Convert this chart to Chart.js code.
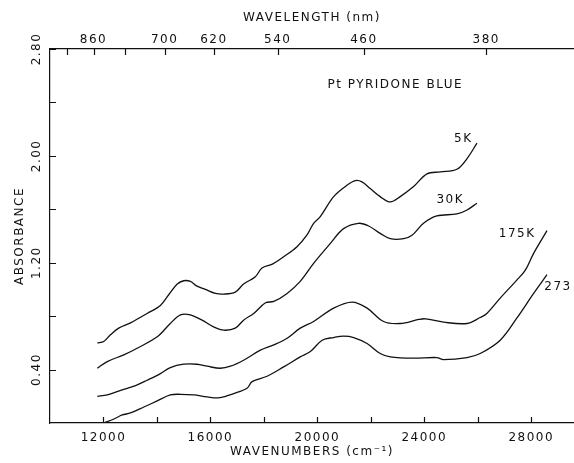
<!DOCTYPE html>
<html>
<head>
<meta charset="utf-8">
<script src="https://cdn.jsdelivr.net/npm/chart.js@4"></script>
<style>
  html, body { margin: 0; padding: 0; background: #fff; }
  #wrap { width: 574px; height: 463px; position: relative; }
</style>
</head>
<body>
<div id="wrap"><canvas id="myChart"></canvas></div>
<script>
// spectra: wavenumber (cm-1) and absorbance
var wn5K = [11770, 12010, 12260, 12570, 13010, 13630, 14130, 14440, 14760, 15000, 15250, 15500, 15810, 16190, 16500, 16930, 17240, 17680, 17930, 18320, 18740, 19240, 19620, 19860, 20110, 20610, 21110, 21420, 21670, 21980, 22350, 22730, 23100, 23600, 24100, 24600, 25220, 25600, 25970];
var abs5K = [0.60, 0.61, 0.66, 0.71, 0.75, 0.82, 0.88, 0.96, 1.04, 1.065, 1.06, 1.025, 1.00, 0.97, 0.965, 0.98, 1.04, 1.095, 1.16, 1.19, 1.245, 1.32, 1.41, 1.495, 1.545, 1.695, 1.78, 1.815, 1.805, 1.755, 1.695, 1.655, 1.695, 1.77, 1.865, 1.88, 1.90, 1.98, 2.095];

var wn30K = [11770, 12140, 12760, 13260, 14010, 14500, 14880, 15250, 15690, 16120, 16500, 16930, 17240, 17620, 18060, 18370, 18870, 19360, 19860, 20490, 20980, 21540, 21920, 22350, 22730, 23230, 23540, 23970, 24470, 25220, 25600, 25970];
var abs30K = [0.41, 0.46, 0.51, 0.56, 0.645, 0.745, 0.81, 0.81, 0.77, 0.72, 0.695, 0.71, 0.77, 0.82, 0.90, 0.91, 0.97, 1.06, 1.195, 1.345, 1.455, 1.495, 1.475, 1.42, 1.38, 1.38, 1.405, 1.495, 1.55, 1.565, 1.595, 1.645];

var wn175K = [11770, 12140, 12510, 12890, 13200, 13630, 14130, 14500, 15000, 15500, 15880, 16370, 16750, 17240, 17870, 18370, 18870, 19360, 19860, 20610, 21300, 21860, 22480, 23100, 23790, 24040, 24720, 25600, 26090, 26340, 26840, 27460, 27780, 28090, 28590];
var abs175K = [0.20, 0.21, 0.235, 0.26, 0.28, 0.32, 0.37, 0.415, 0.44, 0.44, 0.425, 0.41, 0.425, 0.47, 0.545, 0.585, 0.635, 0.71, 0.76, 0.86, 0.905, 0.86, 0.76, 0.745, 0.775, 0.78, 0.755, 0.745, 0.79, 0.82, 0.935, 1.07, 1.145, 1.27, 1.44];

var wn273 = [12010, 12390, 12700, 13010, 13510, 14010, 14500, 14880, 15380, 15880, 16370, 16870, 17370, 17560, 18120, 18740, 19360, 19740, 20180, 20610, 20980, 21360, 21860, 22350, 22730, 23600, 24470, 24720, 25600, 26090, 26840, 27460, 28090, 28590];
var abs273 = [0.0, 0.03, 0.06, 0.075, 0.12, 0.165, 0.21, 0.215, 0.21, 0.195, 0.19, 0.22, 0.26, 0.31, 0.35, 0.42, 0.495, 0.535, 0.62, 0.64, 0.65, 0.64, 0.595, 0.52, 0.495, 0.485, 0.49, 0.475, 0.49, 0.52, 0.62, 0.785, 0.97, 1.11];

var seriesNames = ['5K', '30K', '175K', '273'];

var xTicks = [12000, 14000, 16000, 18000, 20000, 22000, 24000, 26000, 28000];
var xTickLabels = ['12000', '', '16000', '', '20000', '', '24000', '', '28000'];
var nmTicks = [940, 860, 780, 700, 620, 540, 460, 380];
var nmTickLabels = ['', '860', '', '700', '620', '540', '460', '380'];
var yTicks = [0.4, 0.8, 1.2, 1.6, 2.0, 2.4, 2.8];
var yTickLabels = ['0.40', '', '1.20', '', '2.00', '', '2.80'];

var ink = '#111';
var font = { family: '"DejaVu Sans"', size: 12 };

function pts(xs, ys) {
  return xs.map(function (v, i) { return { x: v, y: ys[i] }; });
}

// where the curve names and the caption sit, in data units
var notes = [
  { text: seriesNames[0], x: 25460, y: 2.126 },
  { text: seriesNames[1], x: 24970, y: 1.669 },
  { text: seriesNames[2], x: 27476, y: 1.415 },
  { text: seriesNames[3], x: 29000, y: 1.018 },
  { text: 'Pt PYRIDONE BLUE', x: 22915, y: 2.53 }
];

const inkPlugin = {
  id: 'ink',
  beforeDraw: function (chart) {
    chart.ctx.letterSpacing = '1.5px';
  },
  afterDraw: function (chart) {
    const ctx = chart.ctx, a = chart.chartArea;
    const x = chart.scales.x, x2 = chart.scales.x2, y = chart.scales.y;
    ctx.save();
    ctx.strokeStyle = ink;
    ctx.lineWidth = 1.2;
    ctx.beginPath();
    xTicks.forEach(function (v) {
      const p = Math.round(x.getPixelForValue(v)) + 0.5;
      ctx.moveTo(p, a.bottom); ctx.lineTo(p, a.bottom - 6);
    });
    nmTicks.forEach(function (nm) {
      const p = Math.round(x2.getPixelForValue(1e7 / nm)) + 0.5;
      ctx.moveTo(p, a.top); ctx.lineTo(p, a.top + 6);
    });
    yTicks.forEach(function (v) {
      const p = Math.round(y.getPixelForValue(v)) + 0.5;
      ctx.moveTo(a.left, p); ctx.lineTo(a.left + 6, p);
    });
    ctx.stroke();

    ctx.fillStyle = ink;
    ctx.font = '12px "DejaVu Sans"';
    ctx.letterSpacing = '1.5px';
    ctx.textAlign = 'center';
    ctx.textBaseline = 'middle';
    yTicks.forEach(function (v, i) {
      if (!yTickLabels[i]) return;
      ctx.save();
      ctx.translate(a.left - 13, y.getPixelForValue(v));
      ctx.rotate(-Math.PI / 2);
      ctx.fillText(yTickLabels[i], 0, 0);
      ctx.restore();
    });
    notes.forEach(function (n) {
      ctx.fillText(n.text, x.getPixelForValue(n.x), y.getPixelForValue(n.y));
    });
    ctx.restore();
  }
};

function line(xs, ys) {
  return {
    data: pts(xs, ys),
    borderColor: ink,
    borderWidth: 1.3,
    pointRadius: 0,
    fill: false,
    tension: 0.35
  };
}

const ctx = document.getElementById('myChart');

const chart = new Chart(ctx, {
  type: 'line',
  data: {
    datasets: [
      line(wn5K, abs5K),
      line(wn30K, abs30K),
      line(wn175K, abs175K),
      line(wn273, abs273)
    ]
  },
  plugins: [inkPlugin],
  options: {
    responsive: true,
    maintainAspectRatio: false,
    animation: false,
    layout: { padding: 0 },
    scales: {
      x: {
        type: 'linear',
        position: 'bottom',
        min: 10000,
        max: 29600,
        grid: { display: false, drawTicks: false },
        border: { display: true, color: ink, width: 1.2 },
        afterBuildTicks: function (s) { s.ticks = xTicks.map(function (v) { return { value: v }; }); },
        afterFit: function (s) { s.height = 40; },
        ticks: {
          color: ink, font: font, padding: 8, maxRotation: 0, autoSkip: false,
          callback: function (v, i) { return xTickLabels[i]; }
        },
        title: {
          display: true, text: 'WAVENUMBERS (cm\u207B\u00B9)', color: ink, font: font,
          padding: { top: 0, bottom: 4 }
        }
      },
      x2: {
        type: 'linear',
        position: 'top',
        min: 10000,
        max: 29600,
        grid: { display: false, drawTicks: false },
        border: { display: true, color: ink, width: 1.2 },
        afterBuildTicks: function (s) { s.ticks = nmTicks.map(function (nm) { return { value: 1e7 / nm }; }); },
        afterFit: function (s) { s.height = 49; },
        ticks: {
          color: ink, font: font, padding: 2, maxRotation: 0, autoSkip: false,
          callback: function (v, i) { return nmTickLabels[i]; }
        },
        title: {
          display: true, text: 'WAVELENGTH (nm)', color: ink, font: font,
          padding: { top: 11, bottom: 0 }
        }
      },
      y: {
        min: 0,
        max: 2.8,
        grid: { display: false, drawTicks: false },
        border: { display: true, color: ink, width: 1.2 },
        ticks: { display: false },
        afterFit: function (s) { s.width = 50; },
        title: {
          display: true, text: 'ABSORBANCE', color: ink, font: font,
          padding: { top: 13, bottom: 0 }
        }
      }
    },
    plugins: {
      legend: { display: false },
      tooltip: { enabled: false }
    }
  }
});
</script>
</body>
</html>
